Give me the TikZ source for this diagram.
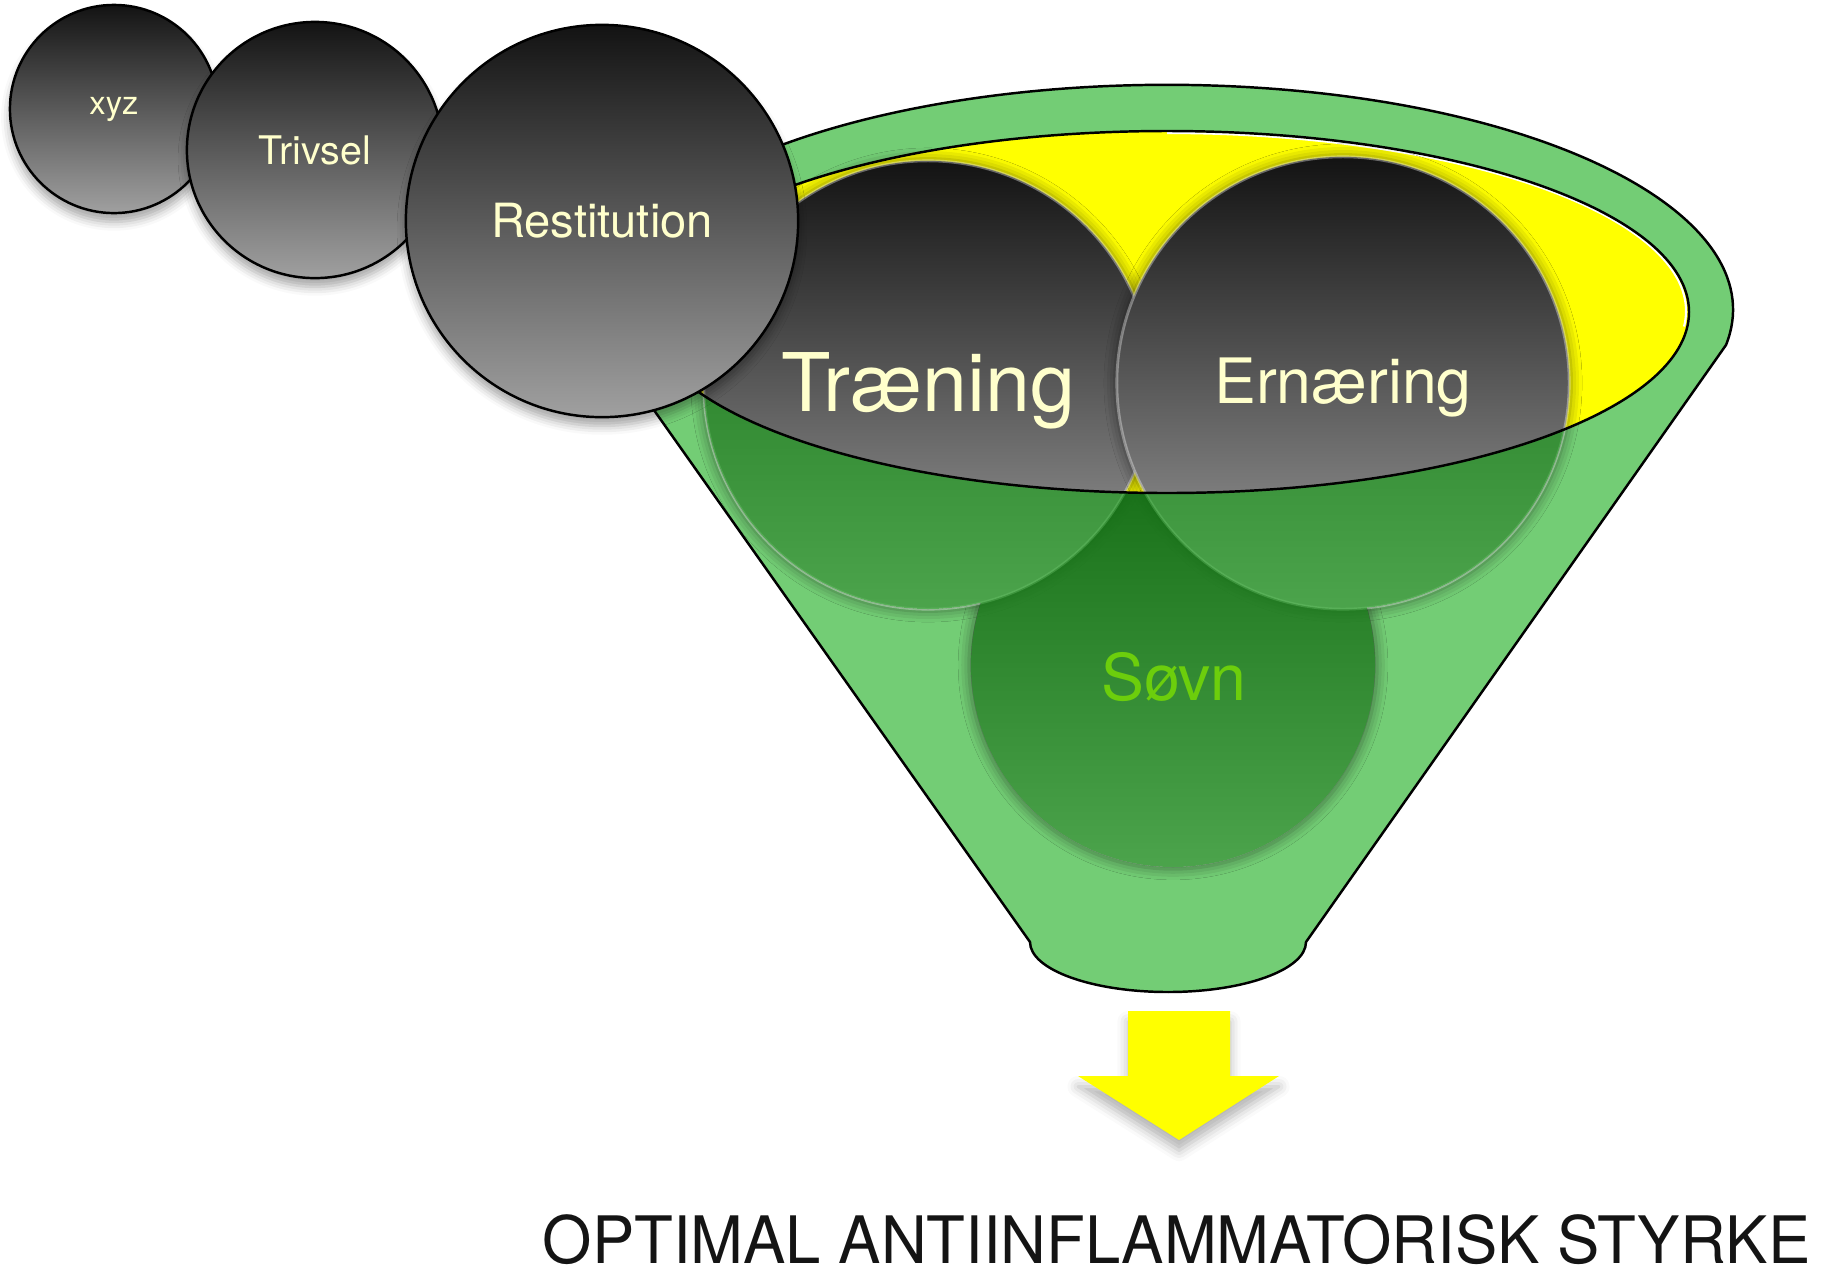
\documentclass[tikz,border=0pt]{standalone}
\usepackage{fontspec}
\setmainfont{TeX Gyre Heros}
\newfontfamily\TitleFont[FakeStretch=0.97]{TeX Gyre Heros}
\usepackage{tikz}
\usetikzlibrary{shadows.blur}
\definecolor{BubbleTop}{RGB}{19,19,19}
\definecolor{BubbleBottom}{RGB}{160,160,160}
\definecolor{BubbleText}{RGB}{255,255,204}
\definecolor{FunnelGreen}{RGB}{115,205,117}
\definecolor{GlassGreen}{RGB}{25,167,25}
\definecolor{SovnGreen}{RGB}{108,206,12}
\definecolor{ArrowYellow}{RGB}{255,255,0}
\definecolor{TitleBlack}{RGB}{20,20,20}

\begin{document}
\begin{tikzpicture}[
x=0.01cm, y=-0.01cm,
MyBubble/.style={circle, inner sep=0pt, draw=black, line width=0.7pt,
  top color=BubbleTop, bottom color=BubbleBottom, text=BubbleText,
  blur shadow={shadow xshift=0pt, shadow yshift=-2.5pt, shadow blur radius=2.5pt, shadow opacity=35}},
FunnelBubble/.style={circle, inner sep=0pt,
  top color=BubbleTop, bottom color=BubbleBottom, text=BubbleText,
  blur shadow={shadow xshift=0pt, shadow yshift=0pt, shadow scale=1.01, shadow blur radius=3pt, shadow opacity=45}},
BubbleRim/.style={draw=white, draw opacity=0.35, line width=0.8pt},
FunnelWall/.style={fill=FunnelGreen, draw=black, line width=0.7pt},
RimLine/.style={draw=black, line width=0.7pt},
GreenGlass/.style={fill=GlassGreen, fill opacity=0.62},
every node/.style={scale=1}
]
\useasboundingbox (0,0) rectangle (1833,1272);

% radii of the bubbles
\pgfmathparse{104}	\let\Rxyz\pgfmathresult
\pgfmathparse{128}	\let\Rtri\pgfmathresult
\pgfmathparse{196}	\let\Rres\pgfmathresult
\pgfmathparse{224}	\let\Rtr\pgfmathresult
\pgfmathparse{226}	\let\Rern\pgfmathresult
\pgfmathparse{202}	\let\Rsov\pgfmathresult

% funnel body: top rim, two sides and the spout
\draw[FunnelWall] (1726,345) arc[start angle=9, end angle=-189, x radius=566, y radius=225]
  -- (1030,942) arc[start angle=180, end angle=0, x radius=138, y radius=50] -- cycle;

% the bubble sunk in the funnel
\node[FunnelBubble, minimum size={0.02cm*\Rsov}] (sovn) at (1173,665) {};

% inside of the funnel
\fill[ArrowYellow] (1167,312) ellipse[x radius=522, y radius=181];
\draw[white, line width=0.6pt] (1167,133) arc[start angle=-90, end angle=5, x radius=519, y radius=178];

\node[FunnelBubble, BubbleRim, minimum size={0.02cm*\Rtr}, text height=20pt,
  font=\fontsize{23}{27}\selectfont] (trn) at (928,385) {Træning};
\node[FunnelBubble, BubbleRim, minimum size={0.02cm*\Rern}, text height=15.7pt,
  font=\fontsize{17.8}{21}\selectfont] (ern) at (1343,383) {Ernæring};

% front wall of the funnel tints what lies under the rim
\begin{scope}
\clip (645,312) arc[start angle=180, end angle=0, x radius=522, y radius=181]
  -- (1900,312) -- (1900,1300) -- (0,1300) -- (0,312) -- cycle;
\fill[GreenGlass] (sovn.center) circle[radius=\Rsov] (trn.center) circle[radius=\Rtr] (ern.center) circle[radius=\Rern];
\end{scope}
\draw[RimLine] (1167,312) ellipse[x radius=522, y radius=181];

\node[text=SovnGreen, font=\fontsize{18.3}{22}\selectfont] (sovntext) at (1174,677) {Søvn};

% bubbles on their way in
\node[MyBubble, minimum size={0.02cm*\Rxyz}, font=\fontsize{9.3}{11}\selectfont] (xyz) at (114,109) {xyz};
\node[MyBubble, minimum size={0.02cm*\Rtri}, font=\fontsize{11.2}{13}\selectfont] (trivsel) at (315,150) {Trivsel};
\node[MyBubble, minimum size={0.02cm*\Rres}, font=\fontsize{13.4}{16}\selectfont] (restitution) at (602,221) {Restitution};

% outlet arrow
\fill[ArrowYellow, blur shadow={shadow xshift=0pt, shadow yshift=-3pt, shadow blur radius=3pt, shadow opacity=30}]
  (1128,1011) -- (1230,1011) -- (1230,1076) -- (1279,1076) -- (1179,1140) -- (1078,1076) -- (1128,1076) -- cycle;

\node[anchor=base west, inner sep=0pt, text=TitleBlack, font=\TitleFont\fontsize{18.6}{22}\selectfont] (result) at (542,1263) {OPTIMAL ANTIINFLAMMATORISK STYRKE};

\end{tikzpicture}
\end{document}
